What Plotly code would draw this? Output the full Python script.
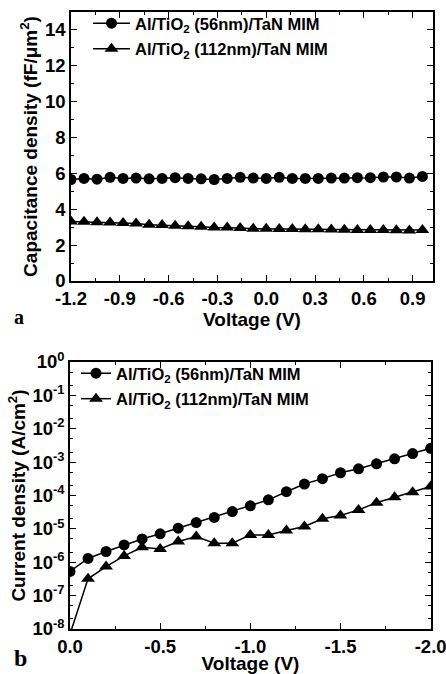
import plotly.graph_objects as go

# ---- Panel a: capacitance density vs voltage ----
cv_voltage = [round(-1.2 + 0.08 * i, 2) for i in range(28)]
cv_56nm = [5.66, 5.72, 5.68, 5.78, 5.72, 5.74, 5.70, 5.72, 5.76, 5.72, 5.70, 5.66, 5.72, 5.78,
           5.74, 5.72, 5.78, 5.72, 5.72, 5.72, 5.74, 5.74, 5.76, 5.76, 5.80, 5.80, 5.74, 5.83]
cv_112nm = [3.32, 3.30, 3.28, 3.26, 3.24, 3.20, 3.14, 3.12, 3.08, 3.05, 3.02, 2.98, 2.98, 2.96,
            2.92, 2.92, 2.90, 2.90, 2.88, 2.88, 2.87, 2.86, 2.85, 2.84, 2.85, 2.83, 2.82, 2.84]

# ---- Panel b: current density vs voltage ----
iv_voltage = [0.0, -0.1, -0.2, -0.3, -0.4, -0.5, -0.6, -0.7, -0.8, -0.9, -1.0,
              -1.1, -1.2, -1.3, -1.4, -1.5, -1.6, -1.7, -1.8, -1.9, -2.0]
iv_56nm = [5.3e-7, 1.3e-6, 2.1e-6, 3.3e-6, 5.0e-6, 7.1e-6, 1.05e-5, 1.55e-5, 2.2e-5, 3.3e-5, 4.9e-5,
           7.4e-5, 1.3e-4, 2.2e-4, 3.2e-4, 4.8e-4, 6.3e-4, 8.9e-4, 1.26e-3, 1.8e-3, 2.6e-3]
iv_112nm = [7e-9, 3.2e-7, 7.4e-7, 1.55e-6, 2.8e-6, 2.5e-6, 4.2e-6, 5.9e-6, 3.7e-6, 3.7e-6, 6.6e-6,
            6.6e-6, 9.0e-6, 1.18e-5, 2.0e-5, 2.5e-5, 3.7e-5, 6.1e-5, 8.9e-5, 1.26e-4, 1.86e-4]

name_56 = "Al/TiO<sub>2</sub> (56nm)/TaN MIM"
name_112 = "Al/TiO<sub>2</sub> (112nm)/TaN MIM"

cv_xticks = [-1.2, -0.9, -0.6, -0.3, 0.0, 0.3, 0.6, 0.9]
cv_yticks = [0, 2, 4, 6, 8, 10, 12, 14]
iv_xticks = [0.0, -0.5, -1.0, -1.5, -2.0]
iv_yexp = [-8, -7, -6, -5, -4, -3, -2, -1, 0]

FONT = "Liberation Sans, Arial, sans-serif"
tickfont = dict(family=FONT, size=18.5, color="black", weight="bold")
titlefont = dict(family=FONT, size=19, color="black", weight="bold")
legfont = dict(family=FONT, size=16.5, color="black", weight="bold")

fig = go.Figure()
mk_line = dict(color="black", width=1.5)
fig.add_trace(go.Scatter(x=cv_voltage, y=cv_56nm, mode="lines+markers", name=name_56,
                         line=mk_line, marker=dict(symbol="circle", size=11, color="black"),
                         xaxis="x", yaxis="y", legend="legend", legendgroup="a1"))
fig.add_trace(go.Scatter(x=cv_voltage, y=cv_112nm, mode="lines+markers", name=name_112,
                         line=mk_line, marker=dict(symbol="triangle-up", size=12, color="black"),
                         xaxis="x", yaxis="y", legend="legend", legendgroup="a2"))
fig.add_trace(go.Scatter(x=iv_voltage, y=iv_56nm, mode="lines+markers", name=name_56,
                         line=mk_line, marker=dict(symbol="circle", size=11, color="black"),
                         xaxis="x2", yaxis="y2", legend="legend2", legendgroup="b1"))
fig.add_trace(go.Scatter(x=iv_voltage, y=iv_112nm, mode="lines+markers", name=name_112,
                         line=mk_line, marker=dict(symbol="triangle-up", size=12, color="black"),
                         xaxis="x2", yaxis="y2", legend="legend2", legendgroup="b2"))

W, H = 446, 674
def px(x): return x / W
def py(y): return 1 - y / H

axis_common = dict(showline=True, linecolor="black", linewidth=1.5, mirror="ticks",
                   ticks="inside", ticklen=6, tickwidth=1.2, tickcolor="black",
                   showgrid=False, zeroline=False, tickfont=tickfont, automargin=False,
                   ticklabeloverflow="allow")

fig.update_layout(
    width=W, height=H, margin=dict(l=0, r=0, t=0, b=0),
    paper_bgcolor="white", plot_bgcolor="white",
    xaxis=dict(domain=[px(71), px(433)], range=[-1.2, 1.025], anchor="y",
               tickvals=cv_xticks, ticktext=["%.1f" % v for v in cv_xticks],
               minor=dict(ticks="inside", ticklen=3, dtick=0.15, tick0=-1.2, tickcolor="black"),
               title=dict(text="Voltage (V)", font=titlefont, standoff=0),
               **axis_common),
    yaxis=dict(domain=[py(281), py(12)], range=[0, 15], anchor="x",
               tickvals=cv_yticks,
               minor=dict(ticks="inside", ticklen=3, dtick=1, tickcolor="black"),
               title=dict(text="Capacitance density (fF/μm<sup>2</sup>)", font=titlefont, standoff=2),
               **axis_common),
    xaxis2=dict(domain=[px(70), px(431)], range=[0, -2.002], anchor="y2",
                tickvals=iv_xticks, ticktext=["%.1f" % v for v in iv_xticks],
                minor=dict(ticks="inside", ticklen=3, dtick=0.25, tick0=0, tickcolor="black"),
                title=dict(text="Voltage (V)", font=titlefont, standoff=6),
                **axis_common),
    yaxis2=dict(domain=[py(629), py(362)], type="log", range=[-8, 0], anchor="x2",
                tickvals=[10.0 ** e for e in iv_yexp],
                ticktext=["10<sup>%d</sup>" % e for e in iv_yexp],
                minor=dict(ticks="inside", ticklen=3, tickcolor="black"),
                title=dict(text="Current density (A/cm<sup>2</sup>)", font=titlefont, standoff=2),
                **axis_common),
    legend=dict(x=px(88), y=py(6), xanchor="left", yanchor="top", bgcolor="rgba(0,0,0,0)",
                font=legfont, tracegroupgap=1, traceorder="grouped", itemwidth=37),
    legend2=dict(x=px(76), y=py(356), xanchor="left", yanchor="top", bgcolor="rgba(0,0,0,0)",
                 font=legfont, tracegroupgap=1, traceorder="grouped"),
    showlegend=True,
)

fig.add_annotation(text="a", x=px(12), y=py(317), xref="paper", yref="paper",
                   xanchor="left", yanchor="middle", showarrow=False,
                   font=dict(family="Liberation Serif, Times New Roman, serif", size=20,
                             color="black", weight="bold"))
fig.add_annotation(text="b", x=px(12), y=py(658), xref="paper", yref="paper",
                   xanchor="left", yanchor="middle", showarrow=False,
                   font=dict(family="Liberation Serif, Times New Roman, serif", size=24,
                             color="black", weight="bold"))

# remove the browser's default 8px body margin so the 446x674 figure fills the window exactly
fig.write_html("out.html", config={"displayModeBar": False},
               post_script="document.body.style.margin='0px';")
